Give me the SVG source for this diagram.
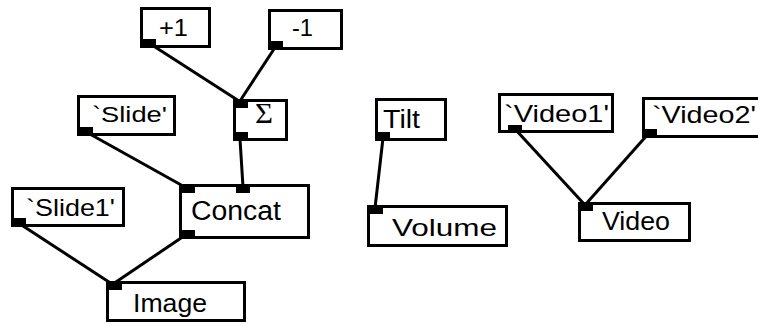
<svg xmlns="http://www.w3.org/2000/svg" width="758" height="325" viewBox="0 0 758 325">
<style>
.box{fill:#fff;stroke:#000;stroke-width:3}
.port{fill:#000}
.lbl{font-family:"Liberation Sans",Arial,sans-serif;fill:#000}
.sym{font-family:"Liberation Serif","Times New Roman",serif;fill:#000}
.wire{stroke:#000;stroke-width:3;fill:none}
</style>
<rect width="758" height="325" fill="#fff"/>
<g id="connectors">
<line class="wire" x1="152" y1="45" x2="239" y2="101"/>
<line class="wire" x1="276" y1="46" x2="240" y2="101"/>
<line class="wire" x1="240" y1="139" x2="243" y2="187"/>
<line class="wire" x1="88" y1="133" x2="183" y2="186"/>
<line class="wire" x1="20" y1="224" x2="112" y2="284"/>
<line class="wire" x1="184" y1="236" x2="113" y2="284"/>
<line class="wire" x1="383" y1="138" x2="375" y2="208"/>
<line class="wire" x1="515" y1="129" x2="585" y2="205"/>
<line class="wire" x1="649" y1="133" x2="585" y2="205"/>
</g>
<g id="plus1">
<rect class="box" x="141.5" y="8.5" width="68" height="38"/>
<rect class="port" x="140" y="39" width="16" height="9"/>
<text class="lbl" x="159" y="36" font-size="23" textLength="29" lengthAdjust="spacingAndGlyphs">+1</text>
</g>
<g id="minus1">
<rect class="box" x="269.5" y="10.5" width="72" height="38"/>
<rect class="port" x="268" y="41" width="15" height="9"/>
<text class="lbl" x="292" y="36" font-size="23" textLength="21" lengthAdjust="spacingAndGlyphs">-1</text>
</g>
<g id="sum">
<rect class="box" x="234.5" y="100.5" width="52" height="39"/>
<rect class="port" x="233" y="99" width="15" height="9"/>
<rect class="port" x="233" y="132" width="15" height="9"/>
<text class="sym" x="255" y="123" font-size="30" textLength="18" lengthAdjust="spacingAndGlyphs">Σ</text>
</g>
<g id="slide">
<rect class="box" x="78.5" y="96.5" width="96" height="38"/>
<rect class="port" x="77" y="127" width="16" height="9"/>
<text class="lbl" x="92" y="122" font-size="22" textLength="75" lengthAdjust="spacingAndGlyphs">`Slide'</text>
</g>
<g id="concat">
<rect class="box" x="180.5" y="185.5" width="128" height="52"/>
<rect class="port" x="179" y="184" width="16" height="9"/>
<rect class="port" x="236" y="184" width="14" height="9"/>
<rect class="port" x="179" y="230" width="16" height="9"/>
<text class="lbl" x="191" y="220" font-size="27" textLength="90" lengthAdjust="spacingAndGlyphs">Concat</text>
</g>
<g id="slide1">
<rect class="box" x="12.5" y="188.5" width="111" height="37"/>
<rect class="port" x="11" y="218" width="15" height="9"/>
<text class="lbl" x="26" y="216" font-size="24" textLength="89" lengthAdjust="spacingAndGlyphs">`Slide1'</text>
</g>
<g id="image">
<rect class="box" x="107.5" y="282.5" width="137" height="38"/>
<rect class="port" x="106" y="281" width="16" height="9"/>
<text class="lbl" x="133" y="312" font-size="26" textLength="74" lengthAdjust="spacingAndGlyphs">Image</text>
</g>
<g id="tilt">
<rect class="box" x="376.5" y="99.5" width="69" height="40"/>
<rect class="port" x="375" y="132" width="15" height="9"/>
<text class="lbl" x="383" y="128" font-size="25" textLength="37" lengthAdjust="spacingAndGlyphs">Tilt</text>
</g>
<g id="volume">
<rect class="box" x="368.5" y="206.5" width="138" height="39"/>
<rect class="port" x="367" y="205" width="16" height="9"/>
<text class="lbl" x="392" y="236" font-size="24" textLength="105" lengthAdjust="spacingAndGlyphs">Volume</text>
</g>
<g id="video1">
<rect class="box" x="499.5" y="94.5" width="113" height="37"/>
<rect class="port" x="508" y="125" width="14" height="8"/>
<text class="lbl" x="504" y="122" font-size="24" textLength="105" lengthAdjust="spacingAndGlyphs">`Video1'</text>
</g>
<g id="video2">
<rect class="box" x="643.5" y="98.5" width="120" height="38"/>
<rect class="port" x="642" y="129" width="15" height="9"/>
<text class="lbl" x="652" y="123" font-size="24" textLength="104" lengthAdjust="spacingAndGlyphs">`Video2'</text>
</g>
<g id="video">
<rect class="box" x="579.5" y="203.5" width="110" height="37"/>
<rect class="port" x="578" y="202" width="15" height="9"/>
<text class="lbl" x="602" y="230" font-size="25" textLength="68" lengthAdjust="spacingAndGlyphs">Video</text>
</g>
</svg>
